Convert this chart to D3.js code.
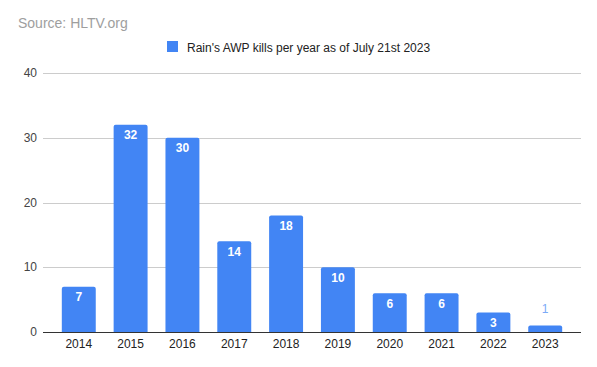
<!DOCTYPE html>
<html><head><meta charset="utf-8">
<script src="https://cdn.jsdelivr.net/npm/d3@7"></script>
<style>body{margin:0;background:#fff}svg{display:block;font-family:Arial, "Liberation Sans", sans-serif}</style>
</head><body>
<svg id="c" width="597" height="367"></svg>
<script>
const years = ["2014","2015","2016","2017","2018","2019","2020","2021","2022","2023"];
const kills = [7,32,30,14,18,10,6,6,3,1];
const yTicks = [0,10,20,30,40];
const seriesName = "Rain's AWP kills per year as of July 21st 2023";
const sourceText = "Source: HLTV.org";

const svg = d3.select("#c");
const plotL = 43, plotR = 581, plotT = 73, plotB = 332;
const x = d3.scaleBand().domain(years).range([53, 571]).paddingInner(0.345).paddingOuter(0.17);
const y = d3.scaleLinear().domain([0, 40]).range([plotB, plotT]);

svg.append("text").attr("x", 18).attr("y", 28).attr("fill", "#9e9e9e").attr("font-size", 14).text(sourceText);

// legend
svg.append("rect").attr("x", 167).attr("y", 41).attr("width", 11).attr("height", 11).attr("fill", "#4285F4");
svg.append("text").attr("x", 187).attr("y", 51.5).attr("font-size", 12).attr("fill", "#222").text(seriesName);

// grid
svg.append("g").selectAll("line").data(yTicks.filter(d => d > 0)).join("line")
  .attr("x1", plotL).attr("x2", plotR).attr("y1", d => Math.round(y(d)) + 0.5).attr("y2", d => Math.round(y(d)) + 0.5)
  .attr("stroke", "#cccccc").attr("stroke-width", 1);

// y labels
svg.append("g").selectAll("text").data(yTicks).join("text")
  .attr("x", 37).attr("y", d => y(d) + 4).attr("text-anchor", "end").attr("font-size", 12).attr("fill", "#444").text(d => d);

// bars with rounded top
function barPath(x0, w, yTop, yBot, r) {
  return `M${x0},${yBot}V${yTop + r}Q${x0},${yTop} ${x0 + r},${yTop}H${x0 + w - r}Q${x0 + w},${yTop} ${x0 + w},${yTop + r}V${yBot}Z`;
}
const data = years.map((yr, i) => ({yr, v: kills[i]}));
svg.append("g").selectAll("path").data(data).join("path")
  .attr("d", d => barPath(x(d.yr), x.bandwidth(), y(d.v), plotB, 2))
  .attr("fill", "#4285F4");

// labels
const inside = d => (plotB - y(d.v)) > 15;
svg.append("g").selectAll("text").data(data).join("text")
  .attr("x", d => x(d.yr) + x.bandwidth() / 2)
  .attr("y", d => inside(d) ? y(d.v) + 14.5 : y(d.v) - 13)
  .attr("text-anchor", "middle").attr("font-size", 12)
  .attr("font-weight", d => inside(d) ? "bold" : "normal")
  .attr("fill", d => inside(d) ? "#ffffff" : "#7baaf7")
  .text(d => d.v);

// baseline
svg.append("line").attr("x1", plotL).attr("x2", plotR).attr("y1", plotB + 0.5).attr("y2", plotB + 0.5).attr("stroke", "#333").attr("stroke-width", 1);

// x labels
svg.append("g").selectAll("text").data(years).join("text")
  .attr("x", d => x(d) + x.bandwidth() / 2).attr("y", 348).attr("text-anchor", "middle")
  .attr("font-size", 12).attr("fill", "#222").text(d => d);
</script>
</body></html>
